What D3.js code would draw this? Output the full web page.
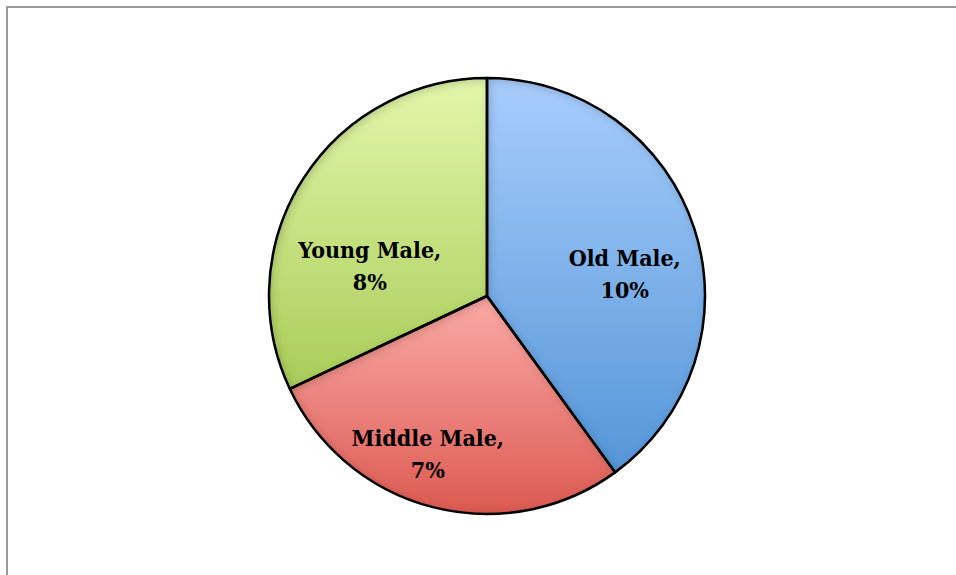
<!DOCTYPE html>
<html>
<head>
<meta charset="utf-8">
<script src="https://cdn.jsdelivr.net/npm/d3@7/dist/d3.min.js"></script>
<style>
  html, body { margin: 0; padding: 0; background: #fff; }
  svg { display: block; }
  .lbl { font-family: "DejaVu Serif Condensed", "DejaVu Serif", serif; font-weight: bold; font-size: 23px; fill: #000; }
</style>
</head>
<body>
<svg id="chart" width="956" height="575"></svg>
<script>
const categories = ["Old Male", "Middle Male", "Young Male"];
const values = [10, 7, 8];
const valueLabels = ["10%", "7%", "8%"];
const colorTop = ["#a8cdfc", "#faaaa6", "#e2f7ab"];
const colorBottom = ["#5596d8", "#dc5a52", "#a9cc58"];

const W = 956, H = 575;
const cx = 487, cy = 296, R = 218;
const svg = d3.select("#chart");

// frame
svg.append("rect").attr("x", 7).attr("y", 7).attr("width", 1000).attr("height", 600)
  .attr("fill", "none").attr("stroke", "#9a9a9a").attr("stroke-width", 2);

const defs = svg.append("defs");
categories.forEach((c, i) => {
  const g = defs.append("linearGradient").attr("id", "grad" + i)
    .attr("x1", 0).attr("y1", 0).attr("x2", 0).attr("y2", 1);
  g.append("stop").attr("offset", "0%").attr("stop-color", colorTop[i]);
  g.append("stop").attr("offset", "100%").attr("stop-color", colorBottom[i]);
});
const f = defs.append("filter").attr("id", "inner").attr("x", "-10%").attr("y", "-10%").attr("width", "120%").attr("height", "120%");
f.append("feComponentTransfer").attr("in", "SourceAlpha").attr("result", "inv")
  .append("feFuncA").attr("type", "table").attr("tableValues", "1 0");
f.append("feGaussianBlur").attr("in", "inv").attr("stdDeviation", 5).attr("result", "blur");
f.append("feOffset").attr("in", "blur").attr("dx", 2).attr("dy", 2).attr("result", "off");
f.append("feFlood").attr("flood-color", "#000").attr("flood-opacity", 0.45).attr("result", "col");
f.append("feComposite").attr("in", "col").attr("in2", "off").attr("operator", "in").attr("result", "sh");
f.append("feComposite").attr("in", "sh").attr("in2", "SourceAlpha").attr("operator", "in").attr("result", "sh2");
const fm = f.append("feMerge");
fm.append("feMergeNode").attr("in", "SourceGraphic");
fm.append("feMergeNode").attr("in", "sh2");

const data = categories.map((c, i) => ({ cat: c, value: values[i], label: valueLabels[i], i }));
const pie = d3.pie().value(d => d.value).sort(null);
const arcs = pie(data);
const arc = d3.arc().innerRadius(0).outerRadius(R);

const g = svg.append("g").attr("transform", `translate(${cx},${cy})`);
g.selectAll("path.fill").data(arcs).join("path").attr("class", "fill")
  .attr("d", arc).attr("fill", d => `url(#grad${d.data.i})`).attr("filter", "url(#inner)");
g.selectAll("path.edge").data(arcs).join("path").attr("class", "edge")
  .attr("d", arc).attr("fill", "none").attr("stroke", "#000").attr("stroke-width", 2.5).attr("stroke-linejoin", "round");

// label placement relative to pie (angle in degrees clockwise from top, radius fraction)
const labelPlace = [[80.9, 0.64], [200.5, 0.775], [284.4, 0.555]];
const lg = g.selectAll("text.lbl").data(arcs).join("text").attr("class", "lbl")
  .attr("text-anchor", "middle")
  .attr("transform", d => {
    const [a, rf] = labelPlace[d.data.i];
    const rad = a * Math.PI / 180;
    return `translate(${Math.sin(rad) * R * rf},${-Math.cos(rad) * R * rf})`;
  });
lg.append("tspan").attr("x", 0).attr("dy", "-0.35em").text(d => d.data.cat + ",");
lg.append("tspan").attr("x", 0).attr("dy", "1.4em").text(d => d.data.label);
</script>
</body>
</html>
